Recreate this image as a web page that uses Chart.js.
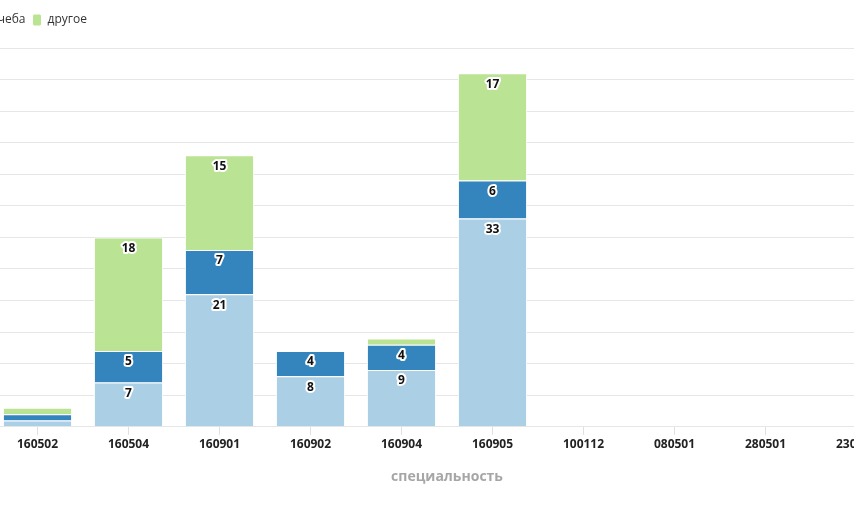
<!DOCTYPE html>
<html lang="ru">
<head>
<meta charset="utf-8">
<script src="https://cdn.jsdelivr.net/npm/chart.js@4/dist/chart.umd.min.js"></script>
<style>
html, body { margin: 0; padding: 0; overflow: hidden; background: #fff; width: 854px; height: 516px; }
#wrap { position: absolute; left: -93px; top: 0; width: 1000px; height: 516px; }
</style>
</head>
<body>
<div id="wrap"><canvas id="grafico"></canvas></div>
<script>
// данные
const specialnosti = ['160502', '160504', '160901', '160902', '160904', '160905', '100112', '080501', '280501', '230101'];
const rabota = [1, 7, 21, 8, 9, 33, 0, 0, 0, 0];
const ucheba = [1, 5, 7, 4, 4, 6, 0, 0, 0, 0];
const drugoe = [1, 18, 15, 0, 1, 17, 0, 0, 0, 0];
const yMax = 60;
const yStep = 5;

// подписи значений с белой обводкой
const rotulos = {
    id: 'rotulos',
    afterDatasetsDraw(chart) {
        const ctx = chart.ctx;
        ctx.save();
        ctx.font = 'bold 12px "Open Sans"';
        ctx.textAlign = 'center';
        ctx.textBaseline = 'middle';
        ctx.lineJoin = 'round';
        ctx.lineWidth = 4;
        ctx.strokeStyle = '#fff';
        ctx.fillStyle = '#111';
        chart.data.datasets.forEach((ds, i) => {
            chart.getDatasetMeta(i).data.forEach((bar, j) => {
                const v = ds.data[j];
                const p = bar.getProps(['x', 'y', 'base'], true);
                if (!v || Math.abs(p.base - p.y) < 16) return;
                ctx.strokeText(String(v), p.x, p.y + 11);
                ctx.fillText(String(v), p.x, p.y + 11);
            });
        });
        ctx.restore();
    }
};

// отступ под легендой
const espacoLegenda = {
    id: 'espacoLegenda',
    beforeInit(chart) {
        const fitOriginal = chart.legend.fit;
        chart.legend.fit = function () {
            fitOriginal.bind(this)();
            this.height += 12;
        };
    }
};

const ctx = document.getElementById('grafico').getContext('2d');
const grafico = new Chart(ctx, {
    type: 'bar',
    data: {
        labels: specialnosti,
        datasets: [
            { label: 'работа', data: rabota, backgroundColor: '#abd0e5' },
            { label: 'учеба', data: ucheba, backgroundColor: '#3484be' },
            { label: 'другое', data: drugoe, backgroundColor: '#bbe394' }
        ]
    },
    options: {
        responsive: true,
        maintainAspectRatio: false,
        animation: false,
        categoryPercentage: 0.76,
        barPercentage: 1,
        borderColor: '#fff',
        borderWidth: 1,
        layout: { padding: { top: 7, right: 5, bottom: 27, left: 0 } },
        plugins: {
            tooltip: { enabled: false },
            legend: {
                position: 'top',
                align: 'start',
                labels: {
                    font: { family: 'Open Sans', size: 12 },
                    color: '#333',
                    boxWidth: 9,
                    boxHeight: 12,
                    useBorderRadius: true,
                    borderRadius: 2,
                    padding: 7
                }
            }
        },
        scales: {
            x: {
                stacked: true,
                grid: { drawOnChartArea: false, offset: false, tickLength: 8, tickColor: '#e0e0e0' },
                border: { color: '#e6e6e6' },
                ticks: { font: { family: 'Open Sans', size: 12, weight: 'bold' }, color: '#222', padding: 3 },
                title: {
                    display: true,
                    text: 'специальность',
                    font: { family: 'Open Sans', size: 14, weight: 'bold' },
                    color: '#a6a6a6',
                    padding: { top: 13, bottom: 4 }
                }
            },
            y: {
                stacked: true,
                min: 0,
                max: yMax,
                ticks: { stepSize: yStep, font: { family: 'Open Sans', size: 11 }, color: '#666' },
                grid: { color: '#e6e6e6', drawTicks: false },
                border: { display: false },
                afterFit(scale) { scale.width = 85; }
            }
        }
    },
    plugins: [rotulos, espacoLegenda]
});
</script>
</body>
</html>
